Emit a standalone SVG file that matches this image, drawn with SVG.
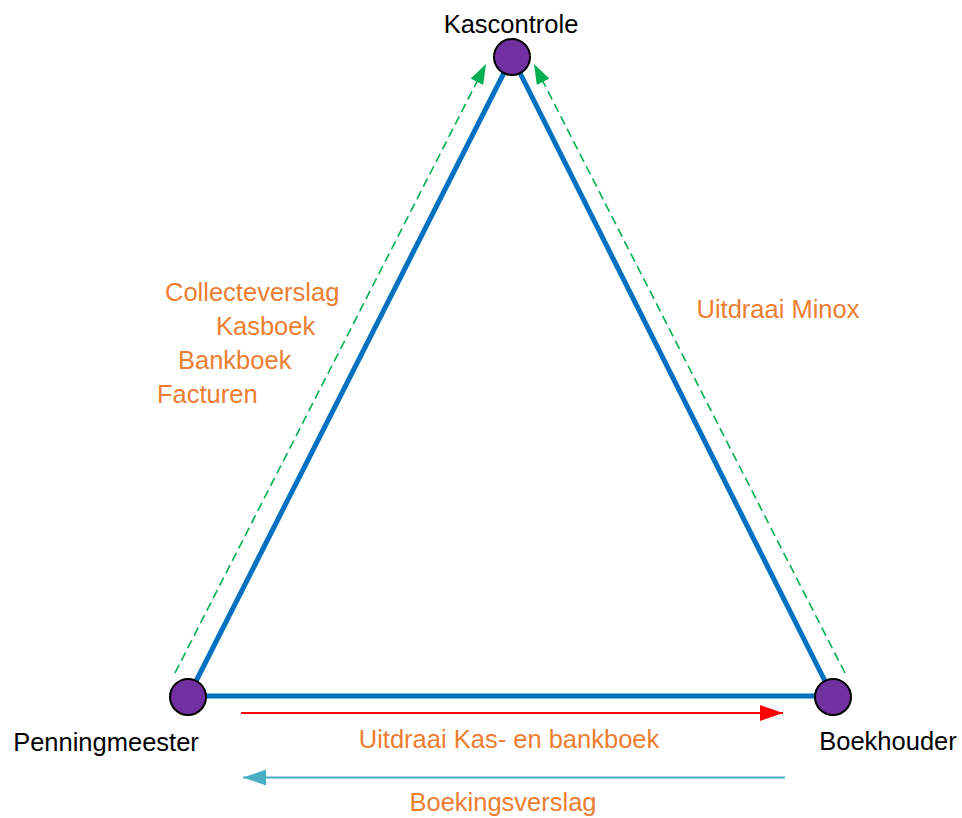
<svg xmlns="http://www.w3.org/2000/svg" width="962" height="818" viewBox="0 0 962 818">
<style>
.edge{stroke:#0070C0;stroke-width:5;fill:none}
.node{fill:#7030A0;stroke:#000;stroke-width:2}
.lbl{font-family:"Liberation Sans",Arial,sans-serif;font-size:25.5px;fill:#000}
.o{font-family:"Liberation Sans",Arial,sans-serif;font-size:25.5px;fill:#ED7D31}
.green{stroke:#00B050;stroke-width:1.6;stroke-dasharray:9 5;fill:none}
</style>
<defs>
<marker id="ag" markerUnits="userSpaceOnUse" markerWidth="20" markerHeight="14" refX="20" refY="7" orient="auto"><path d="M0,0 L20,7 L0,14 z" fill="#00B050"/></marker>
<marker id="ar" markerUnits="userSpaceOnUse" markerWidth="23" markerHeight="16" refX="23" refY="8" orient="auto"><path d="M0,0 L23,8 L0,16 z" fill="#FF0000"/></marker>
<marker id="ab" markerUnits="userSpaceOnUse" markerWidth="23" markerHeight="16" refX="23" refY="8" orient="auto"><path d="M0,0 L23,8 L0,16 z" fill="#4BACC6"/></marker>
</defs>
<rect width="962" height="818" fill="#fff"/>
<g id="connectors">
<line class="edge" x1="188" y1="697" x2="512" y2="57"/>
<line class="edge" x1="512" y1="57" x2="833" y2="697"/>
<line class="edge" x1="188" y1="696" x2="833" y2="696"/>
<line class="green" x1="175" y1="673" x2="486" y2="64" marker-end="url(#ag)"/>
<line class="green" x1="845" y1="673" x2="534" y2="64" marker-end="url(#ag)"/>
<line x1="241" y1="713" x2="783" y2="713" stroke="#FF0000" stroke-width="1.8" marker-end="url(#ar)"/>
<line x1="785" y1="777.5" x2="243" y2="777.5" stroke="#4BACC6" stroke-width="1.8" marker-end="url(#ab)"/>
</g>
<g id="kascontrole">
<circle class="node" cx="512" cy="57" r="18"/>
<text class="lbl" x="511" y="33" text-anchor="middle">Kascontrole</text>
</g>
<g id="penningmeester">
<circle class="node" cx="188" cy="697" r="18"/>
<text class="lbl" x="106" y="751" text-anchor="middle">Penningmeester</text>
</g>
<g id="boekhouder">
<circle class="node" cx="833" cy="697" r="18"/>
<text class="lbl" x="888" y="750" text-anchor="middle">Boekhouder</text>
</g>
<g id="labels">
<text class="o" x="165" y="301">Collecteverslag</text>
<text class="o" x="216" y="335">Kasboek</text>
<text class="o" x="178" y="369">Bankboek</text>
<text class="o" x="157" y="403">Facturen</text>
<text class="o" x="778" y="318" text-anchor="middle">Uitdraai Minox</text>
<text class="o" x="509" y="748" text-anchor="middle">Uitdraai Kas- en bankboek</text>
<text class="o" x="503" y="811" text-anchor="middle">Boekingsverslag</text>
</g>
</svg>
